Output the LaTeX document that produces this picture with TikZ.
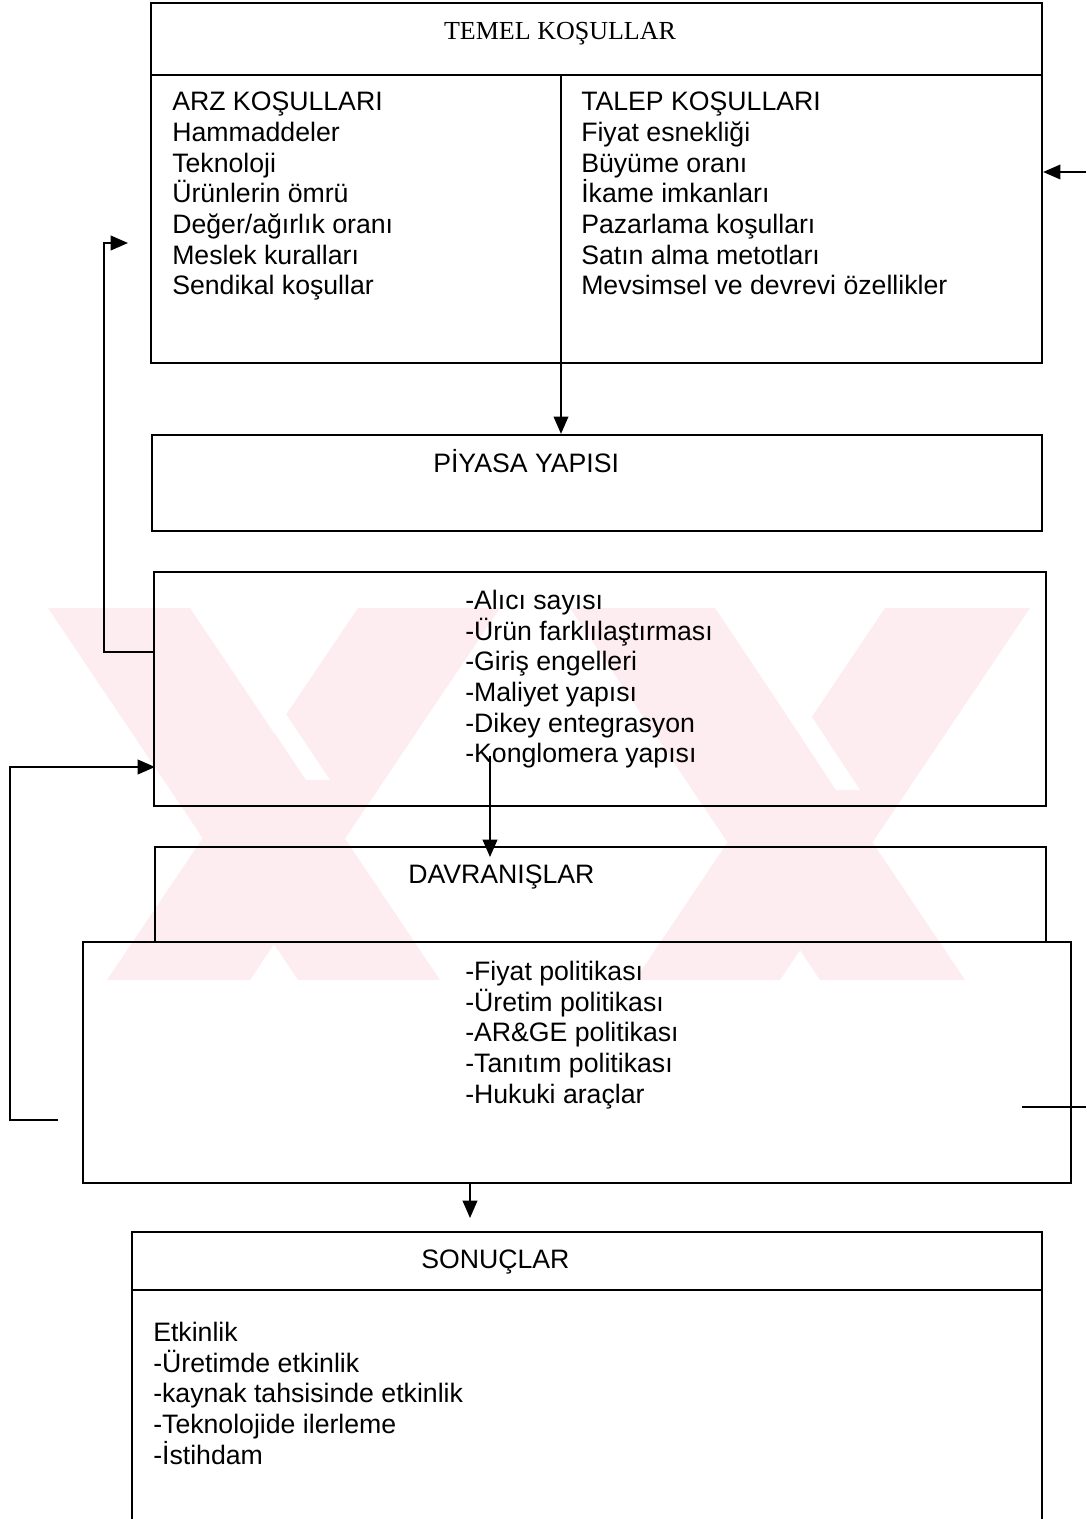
\documentclass[tikz,border=0pt]{standalone}
\usepackage{fontspec}
\setmainfont{Liberation Sans}
\newfontfamily\timesf{Liberation Serif}
\usetikzlibrary{arrows.meta,fit}
\definecolor{wm}{RGB}{253,236,240}
\begin{document}
\begin{tikzpicture}[x=0.75pt,y=-0.75pt,
  box/.style={draw, line width=1.7pt, inner sep=0pt},
  ln/.style={line width=1.7pt},
  conn/.style={line width=1.3pt},
  arr/.style={conn, -{Triangle[length=13pt,width=11pt]}},
  txt/.style={font=\fontsize{20}{23}\selectfont, inner sep=0pt, align=left},
]
\useasboundingbox (0,0) rectangle (1086,1519);
% watermark
\fill[wm] (48,608) -- (190,608) -- (440,980) -- (298,980) -- cycle;
\fill[wm] (107,980) -- (250,980) -- (500,608) -- (358,608) -- cycle;
\fill[wm] (885,608) -- (1030,608) -- (780,980) -- (635,980) -- cycle;
\fill[wm] (570,608) -- (715,608) -- (965,980) -- (820,980) -- cycle;
\fill[white] (191,608) -- (215,608) -- (330,780) -- (306,780) -- cycle;
\fill[white] (716,608) -- (740,608) -- (860,790) -- (836,790) -- cycle;

% boxes
\node[box, fit={(151,3)(1042,363)}] (temel) {};
\node[box, fit={(152,435)(1042,531)}] (piyasa) {};
\node[box, fit={(154,572)(1046,806)}] (market) {};
\node[box, fit={(155,847)(1046,942)}] (davr) {};
\node[box, fit={(83,942)(1071,1183)}] (behav) {};
\coordinate (sbl) at (132,1522);
\coordinate (str) at (1042,1232);
\draw[ln] (sbl) |- (str) -- (str |- sbl);

% inner lines
\coordinate (hd) at (151,75);
\coordinate (dv) at (561,75);
\draw[ln] (hd) -- (hd -| temel.east);
\draw[ln] (dv) -- (dv |- temel.south);
\coordinate (sh) at (132,1290);
\draw[ln] (sh) -- (sh -| str);

% connectors
\draw[arr] (dv |- temel.south) -- (dv |- piyasa.north);
\coordinate (ka) at (490,756);
\coordinate (kt) at (490,857);
\draw[arr] (ka) -- (kt);
\coordinate (bs) at (470,1183);
\coordinate (bt) at (470,1218);
\draw[arr] (bs) -- (bt);
\coordinate (f1s) at (154,652);
\coordinate (f1e) at (128,243);
\draw[arr] (f1s) -- ++(-50,0) |- (f1e);
\coordinate (f2s) at (58,1120);
\coordinate (f2e) at (155,767);
\draw[arr] (f2s) -- ++(-48,0) |- (f2e);
\coordinate (r1) at (1022,1107);
\coordinate (r2) at (1086,1107);
\draw[conn] (r1) -- (r2);
\coordinate (r3) at (1086,172);
\draw[arr] (r3) -- (temel.east |- r3);

% texts
\node[txt, font=\timesf\fontsize{19.5}{23}\selectfont, anchor=base] (ttl) at (560,40) {TEMEL KOŞULLAR};
\node[txt, anchor=north west] (arz) at (172,92) {ARZ KOŞULLARI\\Hammaddeler\\Teknoloji\\Ürünlerin ömrü\\Değer/ağırlık oranı\\Meslek kuralları\\Sendikal koşullar};
\node[txt, anchor=north west] (talep) at (581,92) {TALEP KOŞULLARI\\Fiyat esnekliği\\Büyüme oranı\\İkame imkanları\\Pazarlama koşulları\\Satın alma metotları\\Mevsimsel ve devrevi özellikler};
\node[txt, anchor=base west] (piy) at (433,472) {PİYASA YAPISI};
\node[txt, anchor=north west] (ml) at (465,590) {-Alıcı sayısı\\-Ürün farklılaştırması\\-Giriş engelleri\\-Maliyet yapısı\\-Dikey entegrasyon\\-Konglomera yapısı};
\node[txt, anchor=base west] (dav) at (408,883) {DAVRANIŞLAR};
\node[txt, anchor=north west] (bl) at (465,961) {-Fiyat politikası\\-Üretim politikası\\-AR\&GE politikası\\-Tanıtım politikası\\-Hukuki araçlar};
\node[txt, anchor=base west] (son) at (421,1268) {SONUÇLAR};
\node[txt, anchor=north west] (sl) at (153,1322) {Etkinlik\\-Üretimde etkinlik\\-kaynak tahsisinde etkinlik\\-Teknolojide ilerleme\\-İstihdam};
\end{tikzpicture}
\end{document}
